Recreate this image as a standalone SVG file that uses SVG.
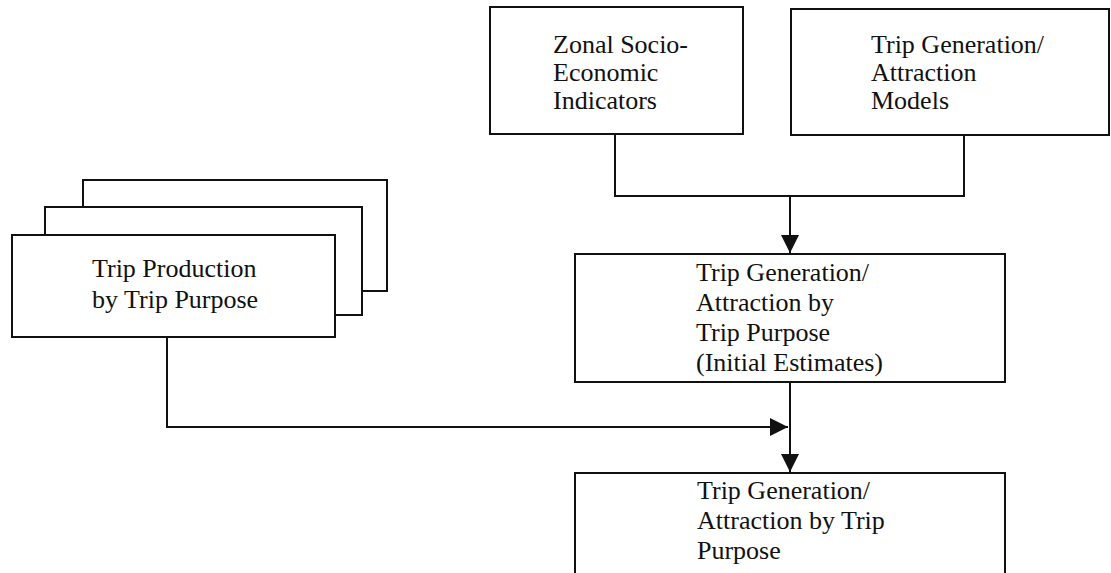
<svg xmlns="http://www.w3.org/2000/svg" width="1111" height="573" viewBox="0 0 1111 573">
<style>
.box{fill:#fff;stroke:#111;stroke-width:2}
.lbl{font-family:"Liberation Serif","Times New Roman",serif;font-size:26px;fill:#111}
.con{fill:none;stroke:#111;stroke-width:2}
</style>
<defs>
<marker id="arr" viewBox="0 0 18 18" refX="18" refY="9" markerWidth="18" markerHeight="18" markerUnits="userSpaceOnUse" orient="auto">
<path d="M0,0 L18,9 L0,18 Z" fill="#111"/>
</marker>
</defs>
<rect width="1111" height="573" fill="#fff"/>
<g id="zonal">
<rect class="box" x="490" y="7" width="253" height="127"/>
<text class="lbl" x="553" y="53">Zonal Socio-</text>
<text class="lbl" x="553" y="81">Economic</text>
<text class="lbl" x="553" y="109">Indicators</text>
</g>
<g id="models">
<rect class="box" x="791" y="9" width="318" height="126"/>
<text class="lbl" x="871" y="53">Trip Generation/</text>
<text class="lbl" x="871" y="81">Attraction</text>
<text class="lbl" x="871" y="109">Models</text>
</g>
<g id="production">
<rect class="box" x="83" y="180" width="304" height="111"/>
<rect class="box" x="45" y="207" width="317" height="108"/>
<rect class="box" x="12" y="235" width="323" height="102"/>
<text class="lbl" x="92" y="277">Trip Production</text>
<text class="lbl" x="92" y="308">by Trip Purpose</text>
</g>
<g id="initial">
<rect class="box" x="575" y="254" width="430" height="128"/>
<text class="lbl" x="696" y="281">Trip Generation/</text>
<text class="lbl" x="696" y="311">Attraction by</text>
<text class="lbl" x="696" y="341">Trip Purpose</text>
<text class="lbl" x="696" y="371">(Initial Estimates)</text>
</g>
<g id="final">
<rect class="box" x="575" y="473" width="430" height="110"/>
<text class="lbl" x="697" y="499">Trip Generation/</text>
<text class="lbl" x="697" y="529">Attraction by Trip</text>
<text class="lbl" x="697" y="559">Purpose</text>
</g>
<g id="connectors">
<path class="con" d="M615,134 V196 H964 V135"/>
<path class="con" d="M790,196 V253" marker-end="url(#arr)"/>
<path class="con" d="M167,337 V427 H788" marker-end="url(#arr)"/>
<path class="con" d="M790,382 V472" marker-end="url(#arr)"/>
</g>
</svg>
